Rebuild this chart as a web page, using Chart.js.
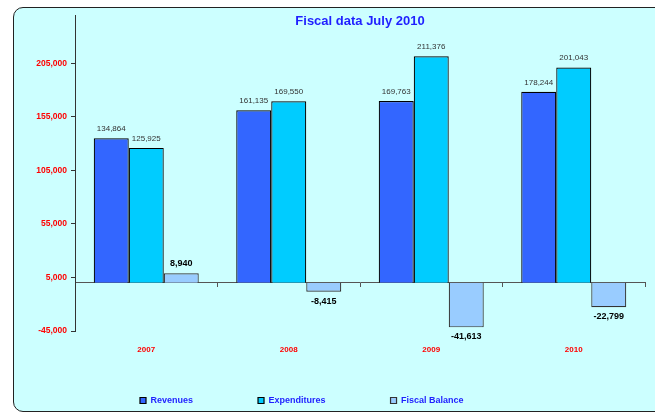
<!DOCTYPE html>
<html>
<head>
<meta charset="utf-8">
<script src="https://cdn.jsdelivr.net/npm/chart.js@4/dist/chart.umd.min.js"></script>
<style>
    body { margin: 0; background: #fff; }
    #wrap { position: relative; width: 655px; height: 414px; overflow: hidden; }
    #panel {
        position: absolute; left: 13px; top: 7px; width: 720px; height: 403px;
        background: #ccffff; border: 1.5px solid #222; border-radius: 10px;
    }
    #chart { position: absolute; left: 0; top: 0; }
</style>
</head>
<body>
<div id="wrap">
    <div id="panel"></div>
    <canvas id="chart" width="655" height="414"></canvas>
</div>
<script>
const YEARS = ['2007', '2008', '2009', '2010'];
const REVENUES = [134864, 161135, 169763, 178244];
const EXPENDITURES = [125925, 169550, 211376, 201043];
const FISCAL_BALANCE = [8940, -8415, -41613, -22799];
const Y_TICKS = [-45000, 5000, 55000, 105000, 155000, 205000];

const BLUE_TEXT = '#1f1fff';
const RED_TEXT = '#ff0000';

Chart.defaults.font.family = 'Arial, "Liberation Sans", sans-serif';

function fmt(v) {
    return Number(v).toLocaleString('en-US');
}

// value labels above / below each bar
const barLabels = {
    id: 'barLabels',
    afterDatasetsDraw(chart) {
        const ctx = chart.ctx;
        ctx.save();
        ctx.textAlign = 'center';
        ctx.textBaseline = 'middle';
        chart.data.datasets.forEach((ds, i) => {
            const meta = chart.getDatasetMeta(i);
            const bold = i === 2;
            ctx.font = (bold ? 'bold 9px ' : '8px ') + Chart.defaults.font.family;
            ctx.fillStyle = bold ? '#000' : '#333';
            meta.data.forEach((bar, j) => {
                const v = ds.data[j];
                const y = v >= 0 ? bar.y - 9.5 : bar.y + 9.5;
                ctx.fillText(fmt(v), bar.x, y);
            });
        });
        ctx.restore();
    }
};

new Chart(document.getElementById('chart'), {
    type: 'bar',
    data: {
        labels: YEARS,
        datasets: [
            { label: 'Revenues', data: REVENUES, backgroundColor: '#3366ff', borderColor: '#000', borderWidth: 1.2 },
            { label: 'Expenditures', data: EXPENDITURES, backgroundColor: '#00ccff', borderColor: '#000', borderWidth: 1.2 },
            { label: 'Fiscal Balance', data: FISCAL_BALANCE, backgroundColor: '#99ccff', borderColor: '#333', borderWidth: 1.2 }
        ]
    },
    options: {
        responsive: false,
        animation: false,
        categoryPercentage: 0.737,
        barPercentage: 1,
        layout: { padding: { top: 0, right: 10, bottom: -1, left: 0 } },
        plugins: {
            title: {
                display: true,
                fullSize: false,
                text: 'Fiscal data July 2010',
                color: BLUE_TEXT,
                font: { size: 13, weight: 'bold' },
                padding: { top: 14, bottom: -14.6 }
            },
            legend: {
                position: 'bottom',
                align: 'start',
                fullSize: false,
                labels: {
                    color: BLUE_TEXT,
                    font: { size: 9, weight: 'bold' },
                    boxWidth: 6,
                    boxHeight: 6,
                    padding: 65
                }
            },
            tooltip: { enabled: false }
        },
        scales: {
            x: {
                position: { y: 0 },
                offset: true,
                grid: { offset: true, drawOnChartArea: false, tickLength: 4, color: '#555' },
                border: { color: '#555', width: 1 },
                ticks: { padding: 58, color: RED_TEXT, font: { size: 8, weight: 'bold' } }
            },
            y: {
                min: -45000,
                max: 250000,
                afterBuildTicks: (scale) => { scale.ticks = Y_TICKS.map(v => ({ value: v })); },
                afterFit: (scale) => { scale.width = 75; },
                grid: { drawOnChartArea: false, tickLength: 4, color: '#333' },
                border: { color: '#333', width: 1 },
                ticks: {
                    padding: 4,
                    color: RED_TEXT,
                    font: { size: 8.5, weight: 'bold' },
                    callback: (v) => fmt(v)
                }
            }
        }
    },
    plugins: [barLabels]
});
</script>
</body>
</html>
